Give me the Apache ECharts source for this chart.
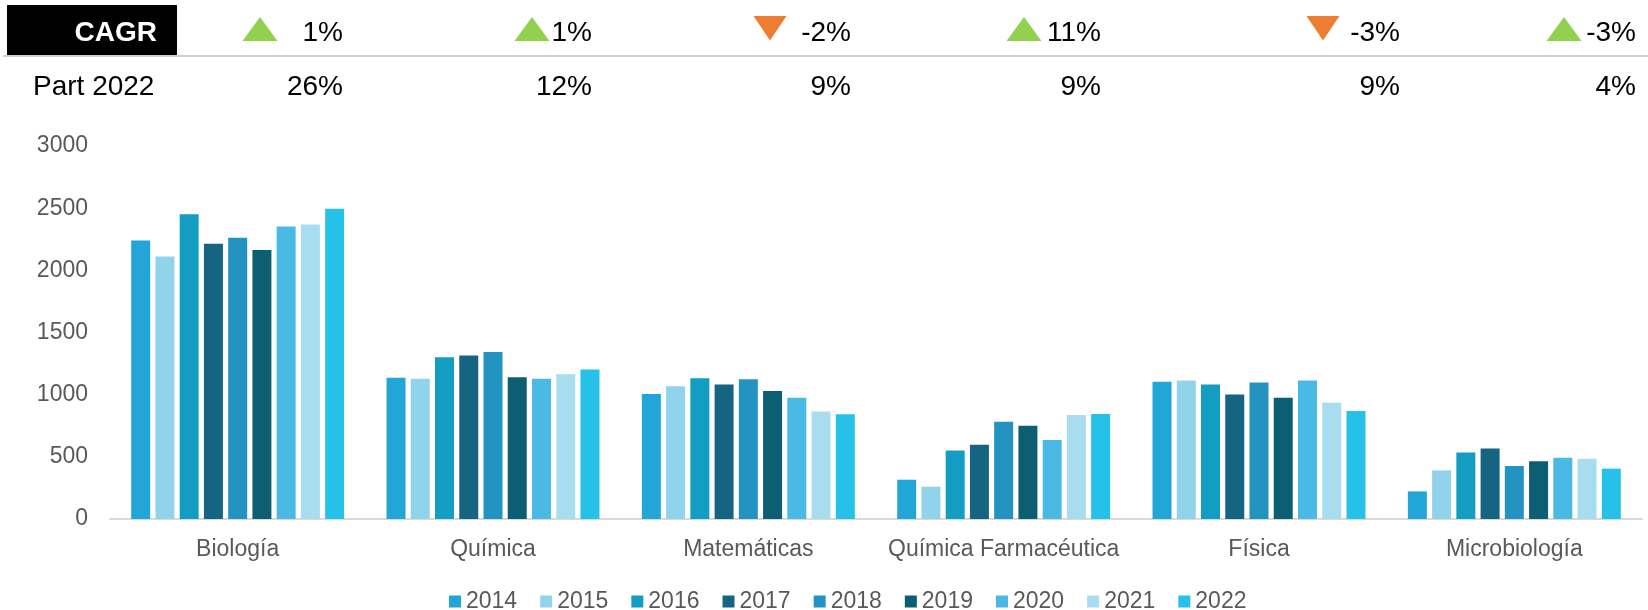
<!DOCTYPE html>
<html>
<head>
<meta charset="utf-8">
<script src="https://cdn.jsdelivr.net/npm/echarts@6/dist/echarts.min.js"></script>
<style>
  html, body { margin: 0; padding: 0; background: #fff; }
  #chart { width: 1648px; height: 610px; }
</style>
</head>
<body>
<div id="chart"></div>
<script>
// categories and series
var careers = ['Biología', 'Química', 'Matemáticas', 'Química Farmacéutica', 'Física', 'Microbiología'];
var years = ['2014', '2015', '2016', '2017', '2018', '2019', '2020', '2021', '2022'];

var y2014 = [2240, 1137, 1006, 316, 1103, 222];
var y2015 = [2112, 1129, 1068, 260, 1113, 391];
var y2016 = [2452, 1301, 1132, 550, 1081, 534];
var y2017 = [2214, 1315, 1081, 598, 1001, 568];
var y2018 = [2262, 1344, 1124, 783, 1097, 427];
var y2019 = [2163, 1140, 1030, 749, 976, 464];
var y2020 = [2353, 1129, 976, 636, 1113, 493];
var y2021 = [2369, 1164, 864, 837, 934, 485];
var y2022 = [2496, 1202, 842, 845, 869, 405];

// header rows
var cagr = ['1%', '1%', '-2%', '11%', '-3%', '-3%'];
var trend = ['up', 'up', 'down', 'up', 'down', 'up'];
var part2022 = ['26%', '12%', '9%', '9%', '9%', '4%'];

var yTicks = [0, 3000, 500];

var colors = ['#22A6D8', '#92D3EC', '#149DC2', '#156482', '#2394C2', '#0C5E73', '#4ABAE4', '#A8DCEF', '#25C1E9'];
var allData = [y2014, y2015, y2016, y2017, y2018, y2019, y2020, y2021, y2022];

var FONT = '"Liberation Sans", Arial, sans-serif';

// header layout (x of triangle centre, x of right edge of the text)
var triX = [260, 532, 770, 1024, 1323, 1564];
var textRight = [343, 592, 851, 1101, 1400, 1636];

var graphics = [
  { type: 'rect', shape: { x: 7, y: 5, width: 170, height: 50 }, style: { fill: '#000' } },
  { type: 'rect', shape: { x: 3, y: 55, width: 1645, height: 2 }, style: { fill: '#d0d0d0' } },
  { type: 'text', style: { text: 'CAGR', x: 157, y: 33, textAlign: 'right', align: 'right',
      textVerticalAlign: 'middle', verticalAlign: 'middle', fill: '#fff', font: 'bold 28px ' + FONT } },
  { type: 'text', style: { text: 'Part 2022', x: 33, y: 87, textAlign: 'left', align: 'left',
      textVerticalAlign: 'middle', verticalAlign: 'middle', fill: '#000', font: '28px ' + FONT } }
];

for (var i = 0; i < careers.length; i++) {
  var c = triX[i];
  var pts = trend[i] === 'up'
    ? [[c - 17.5, 41], [c + 17.5, 41], [c, 17]]
    : [[c - 16.5, 16], [c + 16.5, 16], [c, 40.5]];
  graphics.push({ type: 'polygon', shape: { points: pts },
    style: { fill: trend[i] === 'up' ? '#92D050' : '#ED7D31' } });
  graphics.push({ type: 'text', style: { text: cagr[i], x: textRight[i], y: 33,
    textAlign: 'right', align: 'right', textVerticalAlign: 'middle', verticalAlign: 'middle',
    fill: '#000', font: '28px ' + FONT } });
  graphics.push({ type: 'text', style: { text: part2022[i], x: textRight[i], y: 87,
    textAlign: 'right', align: 'right', textVerticalAlign: 'middle', verticalAlign: 'middle',
    fill: '#000', font: '28px ' + FONT } });
}

var series = years.map(function (yr, k) {
  return {
    name: yr,
    type: 'bar',
    barWidth: 19,
    barGap: '27.6%',
    itemStyle: { color: colors[k] },
    data: allData[k]
  };
});

var myChart = echarts.init(document.getElementById('chart'));
var option = {
  animation: false,
  color: colors,
  textStyle: { fontFamily: FONT },
  graphic: graphics,
  grid: { left: 110, right: 6, top: 146, bottom: 91, containLabel: false, outerBoundsMode: 'none' },
  legend: {
    data: years,
    left: 444,
    top: 585,
    icon: 'rect',
    itemWidth: 12,
    itemHeight: 12,
    itemGap: 23,
    textStyle: { fontSize: 23, color: '#595959', fontFamily: FONT }
  },
  xAxis: {
    type: 'category',
    data: careers,
    axisTick: { show: false },
    axisLine: { lineStyle: { color: '#d9d9d9', width: 2 } },
    axisLabel: { fontSize: 23, color: '#595959', margin: 19, interval: 0, fontFamily: FONT }
  },
  yAxis: {
    type: 'value',
    min: yTicks[0],
    max: yTicks[1],
    interval: yTicks[2],
    axisLine: { show: false },
    axisTick: { show: false },
    splitLine: { show: false },
    axisLabel: {
      fontSize: 23, color: '#595959', margin: 22, fontFamily: FONT,
      formatter: function (v) { return String(v); }
    }
  },
  series: series
};
myChart.setOption(option);
</script>
</body>
</html>
